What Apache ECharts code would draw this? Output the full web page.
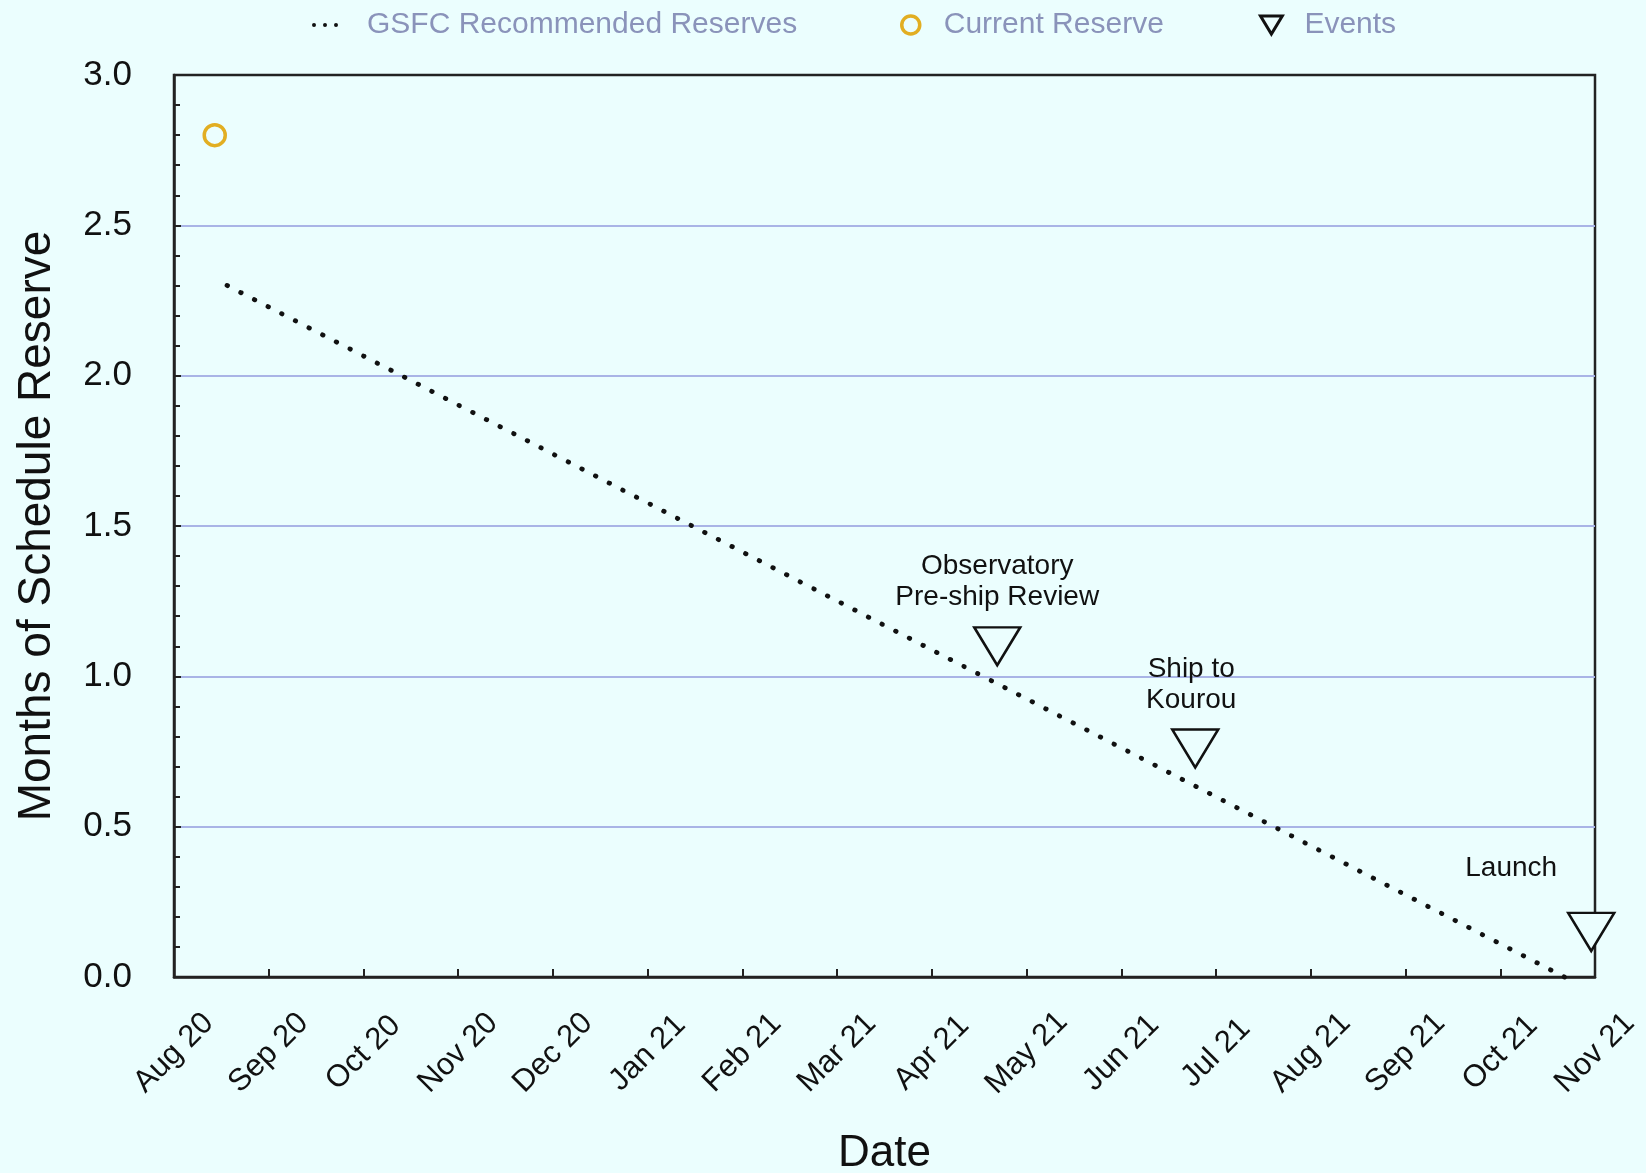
<!DOCTYPE html>
<html>
<head>
<meta charset="utf-8">
<script src="https://cdn.jsdelivr.net/npm/echarts@6/dist/echarts.min.js"></script>
<style>
html,body{margin:0;padding:0;background:#EBFEFE;overflow:hidden;}
#chart{width:1646px;height:1173px;}
</style>
</head>
<body>
<div id="chart"></div>
<script>
// ---- data ----
const monthLabels = ['Aug 20','Sep 20','Oct 20','Nov 20','Dec 20','Jan 21','Feb 21','Mar 21','Apr 21','May 21','Jun 21','Jul 21','Aug 21','Sep 21','Oct 21','Nov 21'];
// x in months since Aug 1 2020
const recommendedX = [0.56, 14.80];
const recommendedY = [2.30, -0.02];
const currentX = [0.43];
const currentY = [2.80];
const eventNames = ['Observatory\nPre-ship Review', 'Ship to\nKourou', 'Launch'];
const eventX = [8.69, 10.78, 14.96];
const eventY = [1.10, 0.76, 0.15];
const yMin = 0, yMax = 3.0, yStep = 0.5;

// ---- styling ----
const BG = '#EBFEFE';
const FONT = '"Liberation Sans", Arial, Helvetica, sans-serif';
const TXT = '#111111';
const LEG = '#8A93BA';
const GOLD = '#E2AE22';
const labelExtra = { 'Launch': { offset: [-80, -15] }, 'Ship to\nKourou': { offset: [-4, 0] } };

const chart = echarts.init(document.getElementById('chart'));
const tri = 'path://M0,0 L46,0 L23,38 Z';
const dots = 'path://M0,2a2,2 0 1,0 4,0a2,2 0 1,0 -4,0 M11,2a2,2 0 1,0 4,0a2,2 0 1,0 -4,0 M22,2a2,2 0 1,0 4,0a2,2 0 1,0 -4,0';

const option = {
  backgroundColor: BG,
  animation: false,
  textStyle: { fontFamily: FONT },
  grid: { left: 174, right: 51, top: 75, bottom: 196, containLabel: false, outerBoundsMode: 'none',
    show: true, borderColor: '#222', borderWidth: 2.5, backgroundColor: 'transparent' },
  legend: [
    { data: [{ name: 'GSFC Recommended Reserves', icon: dots }], left: 312, top: 10, padding: 0, itemWidth: 26, itemHeight: 14,
      itemStyle: { color: '#111', borderWidth: 0 },
      textStyle: { fontSize: 30, color: LEG, fontFamily: FONT, padding: [0, 0, 0, 24] } },
    { data: ['Current Reserve'], left: 900, top: 10, padding: 0, itemWidth: 18, itemHeight: 18,
      itemStyle: { color: BG, borderColor: GOLD, borderWidth: 3.5 },
      textStyle: { fontSize: 30, color: LEG, fontFamily: FONT, padding: [0, 0, 0, 19] } },
    { data: ['Events'], left: 1259, top: 10, padding: 0, itemWidth: 22, itemHeight: 18,
      itemStyle: { color: BG, borderColor: '#111', borderWidth: 3 },
      textStyle: { fontSize: 30, color: LEG, fontFamily: FONT, padding: [0, 0, 0, 17] } }
  ],
  xAxis: {
    type: 'value', min: 0, max: monthLabels.length - 1, interval: 1,
    name: 'Date', nameLocation: 'middle', nameGap: 155,
    nameTextStyle: { fontSize: 44, color: TXT, fontFamily: FONT },
    axisLine: { show: true, lineStyle: { color: '#222', width: 2.5 } },
    axisTick: { show: true, inside: true, length: 8, lineStyle: { color: '#222', width: 2 } },
    splitLine: { show: false },
    axisLabel: {
      rotate: 45, align: 'center', verticalAlign: 'middle', margin: 76,
      fontSize: 31, color: TXT, fontFamily: FONT,
      formatter: v => monthLabels[Math.round(v)] || ''
    }
  },
  yAxis: {
    type: 'value', min: yMin, max: yMax, interval: yStep,
    name: 'Months of Schedule Reserve', nameLocation: 'middle', nameGap: 114,
    nameTextStyle: { fontSize: 46, color: TXT, fontFamily: FONT },
    axisLine: { show: true, lineStyle: { color: '#222', width: 2.5 } },
    axisTick: { show: true, inside: true, length: 7, lineStyle: { color: '#222', width: 2 } },
    minorTick: { show: true, splitNumber: 5, length: 6, lineStyle: { color: '#222', width: 2 } },
    splitLine: { show: true, showMinLine: false, showMaxLine: false, lineStyle: { color: '#A9B4E6', width: 2 } },
    axisLabel: { margin: 42, fontSize: 35, color: TXT, fontFamily: FONT, formatter: v => v.toFixed(1) }
  },
  series: [
    {
      name: 'GSFC Recommended Reserves', type: 'line', symbol: 'none', clip: false,
      data: recommendedX.map((x, i) => [x, recommendedY[i]]),
      lineStyle: { color: '#111', width: 4.8, type: [0.5, 14.86], cap: 'round' },
      itemStyle: { color: '#111' }, z: 3
    },
    {
      name: 'Current Reserve', type: 'scatter', symbol: 'circle', symbolSize: 21,
      data: currentX.map((x, i) => [x, currentY[i]]),
      itemStyle: { color: BG, borderColor: GOLD, borderWidth: 3.5, opacity: 1 }, z: 4
    },
    {
      name: 'Events', type: 'scatter', symbol: tri, symbolSize: [46, 38], symbolKeepAspect: false,
      data: eventX.map((x, i) => {
        const d = { name: eventNames[i], value: [x, eventY[i]] };
        if (labelExtra[eventNames[i]]) d.label = labelExtra[eventNames[i]];
        return d;
      }),
      itemStyle: { color: BG, borderColor: '#111', borderWidth: 2.5, opacity: 1 },
      label: { show: true, position: 'top', distance: 13, formatter: p => p.name,
        fontSize: 28, lineHeight: 31, color: TXT, fontFamily: FONT, align: 'center' },
      z: 5
    }
  ]
};
chart.setOption(option);
</script>
</body>
</html>
